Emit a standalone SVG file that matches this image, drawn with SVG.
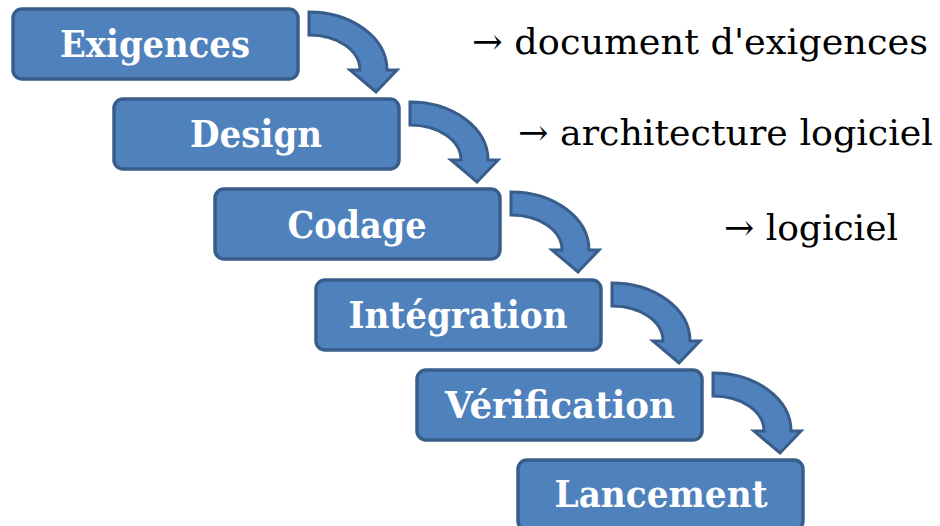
<svg xmlns="http://www.w3.org/2000/svg" width="940" height="526" viewBox="0 0 940 526">
<defs>
<style>
.box{fill:#4F81BD;stroke:#385D8A;stroke-width:3.5}
.lbl{fill:#FFFFFF;font-family:"DejaVu Serif","Liberation Serif",serif;font-weight:bold;font-size:38px}
.arr{fill:#4F81BD;stroke:#385D8A;stroke-width:3;stroke-linejoin:miter}
.out{fill:#000000;font-family:"DejaVu Serif","Liberation Serif",serif;font-size:36px}
</style>
<path id="bend" d="M0,0 C43,0 78,26 78,58 L88,58 L67,80 L41,58 L51,58 C51,38 28,23 0,23 Z"/>
</defs>
<rect width="940" height="526" fill="#FFFFFF"/>
<g id="connectors">
<use href="#bend" class="arr" transform="translate(309,12)"/>
<use href="#bend" class="arr" transform="translate(410,102)"/>
<use href="#bend" class="arr" transform="translate(511,192)"/>
<use href="#bend" class="arr" transform="translate(612,283)"/>
<use href="#bend" class="arr" transform="translate(713,373)"/>
</g>
<g id="exigences">
<rect class="box" x="13" y="9" width="285" height="70" rx="9"/>
<text class="lbl" x="155" y="57" text-anchor="middle" textLength="190" lengthAdjust="spacingAndGlyphs">Exigences</text>
</g>
<g id="design">
<rect class="box" x="114" y="99" width="285" height="70" rx="9"/>
<text class="lbl" x="256" y="147" text-anchor="middle" textLength="132" lengthAdjust="spacingAndGlyphs">Design</text>
</g>
<g id="codage">
<rect class="box" x="215" y="189" width="285" height="70" rx="9"/>
<text class="lbl" x="357" y="238" text-anchor="middle" textLength="139" lengthAdjust="spacingAndGlyphs">Codage</text>
</g>
<g id="integration">
<rect class="box" x="316" y="280" width="285" height="70" rx="9"/>
<text class="lbl" x="458" y="328" text-anchor="middle" textLength="219" lengthAdjust="spacingAndGlyphs">Intégration</text>
</g>
<g id="verification">
<rect class="box" x="417" y="370" width="285" height="70" rx="9"/>
<text class="lbl" x="560" y="418" text-anchor="middle" textLength="230" lengthAdjust="spacingAndGlyphs">Vérification</text>
</g>
<g id="lancement">
<rect class="box" x="518" y="460" width="285" height="70" rx="9"/>
<text class="lbl" x="661" y="507" text-anchor="middle" textLength="213" lengthAdjust="spacingAndGlyphs">Lancement</text>
</g>
<g id="outputs">
<text class="out" x="472" y="54" textLength="456" lengthAdjust="spacingAndGlyphs">→ document d'exigences</text>
<text class="out" x="518" y="145" textLength="415" lengthAdjust="spacingAndGlyphs">→ architecture logiciel</text>
<text class="out" x="724" y="240" textLength="174" lengthAdjust="spacingAndGlyphs">→ logiciel</text>
</g>
</svg>
